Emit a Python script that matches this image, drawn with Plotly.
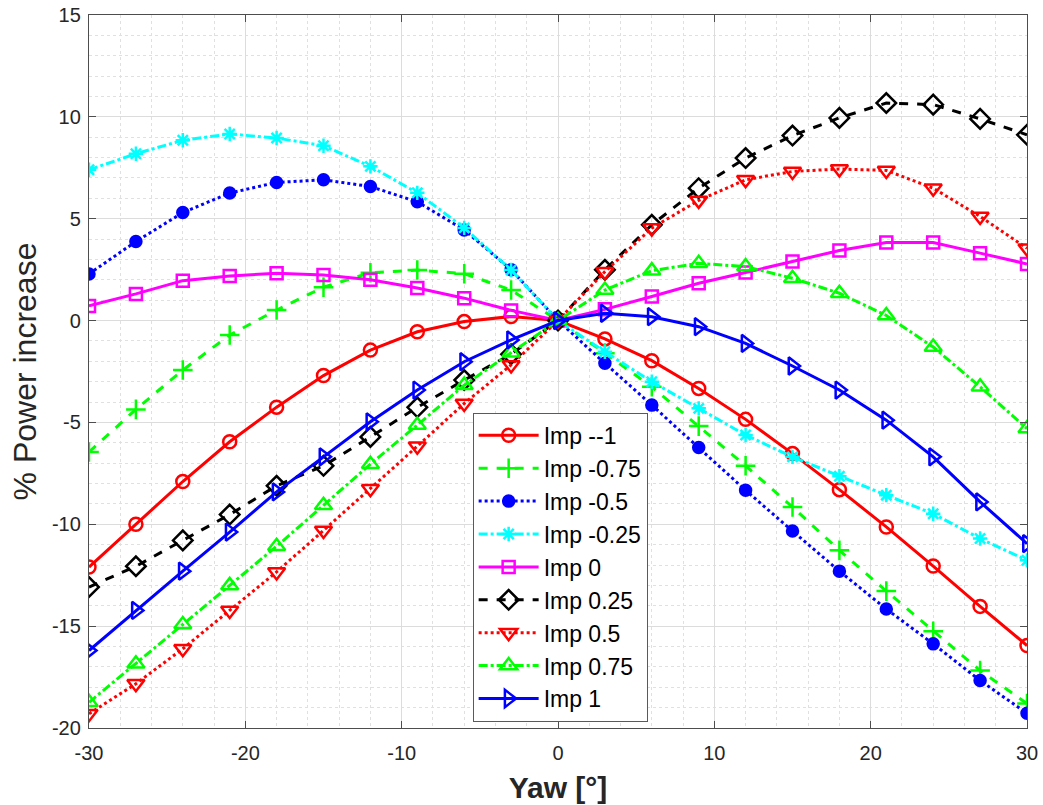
import plotly.graph_objects as go

yaw = [-30, -27, -24, -21, -18, -15, -12, -9, -6, -3, 0, 3, 6, 9, 12, 15, 18, 21, 24, 27, 30]

imp_m1 = [-12.1, -10.0, -7.9, -5.95, -4.25, -2.7, -1.45, -0.55, -0.05, 0.2, 0.0,
          -0.9, -1.97, -3.33, -4.85, -6.53, -8.3, -10.13, -12.05, -14.03, -15.95]
imp_m075 = [-6.45, -4.36, -2.43, -0.71, 0.52, 1.64, 2.35, 2.48, 2.3, 1.5, 0.0,
            -1.6, -3.25, -5.18, -7.13, -9.15, -11.28, -13.28, -15.25, -17.18, -18.8]
imp_m05 = [2.29, 3.88, 5.3, 6.26, 6.78, 6.91, 6.58, 5.83, 4.45, 2.5, 0.0,
           -2.1, -4.15, -6.23, -8.33, -10.33, -12.3, -14.16, -15.87, -17.67, -19.28]
imp_m025 = [7.4, 8.19, 8.85, 9.16, 8.96, 8.58, 7.57, 6.27, 4.55, 2.48, 0.0,
            -1.53, -3.0, -4.31, -5.62, -6.69, -7.64, -8.57, -9.48, -10.7, -11.77]
imp_0 = [0.72, 1.31, 1.96, 2.19, 2.32, 2.24, 2.0, 1.6, 1.1, 0.5, 0.0,
         0.55, 1.18, 1.83, 2.36, 2.9, 3.44, 3.83, 3.83, 3.31, 2.78]
imp_025 = [-13.08, -12.06, -10.79, -9.52, -8.11, -7.13, -5.71, -4.26, -2.92, -1.65, 0.0,
           2.49, 4.7, 6.5, 7.98, 9.08, 9.95, 10.68, 10.6, 9.9, 9.12]
imp_05 = [-19.3, -17.83, -16.11, -14.23, -12.34, -10.3, -8.25, -6.17, -4.07, -2.18, 0.0,
          2.4, 4.54, 5.9, 6.91, 7.32, 7.44, 7.37, 6.5, 5.11, 3.55]
imp_075 = [-18.74, -16.85, -14.92, -13.0, -11.08, -9.07, -7.05, -5.13, -3.17, -1.58, 0.0,
           1.5, 2.45, 2.81, 2.65, 2.08, 1.34, 0.25, -1.3, -3.25, -5.3]
imp_1 = [-16.2, -14.23, -12.3, -10.38, -8.41, -6.69, -4.97, -3.41, -2.02, -0.95, 0.0,
         0.36, 0.19, -0.3, -1.12, -2.23, -3.41, -4.89, -6.69, -8.9, -10.95]

x_ticks = [-30, -20, -10, 0, 10, 20, 30]
x_tick_labels = ["-30", "-20", "-10", "0", "10", "20", "30"]
y_ticks = [-20, -15, -10, -5, 0, 5, 10, 15]
y_tick_labels = ["-20", "-15", "-10", "-5", "0", "5", "10", "15"]

series = [
    ("Imp --1", imp_m1, "#FF0000", "solid", "circle-open", 13),
    ("Imp -0.75", imp_m075, "#00FF00", "dash", "cross-thin-open", 14),
    ("Imp -0.5", imp_m05, "#0000FF", "dot", "circle", 11),
    ("Imp -0.25", imp_m025, "#00FFFF", "dashdot", "asterisk-open", 12),
    ("Imp 0", imp_0, "#FF00FF", "solid", "square-open", 12),
    ("Imp 0.25", imp_025, "#000000", "dash", "diamond-open", 15),
    ("Imp 0.5", imp_05, "#FF0000", "dot", "triangle-down-open", 15),
    ("Imp 0.75", imp_075, "#00FF00", "dashdot", "triangle-up-open", 15),
    ("Imp 1", imp_1, "#0000FF", "solid", "triangle-right-open", 15),
]

fig = go.Figure()
for name, vals, color, dash, sym, size in series:
    fig.add_trace(go.Scatter(
        x=yaw, y=vals, name=name, mode="lines+markers",
        line=dict(color=color, width=3, dash=dash),
        marker=dict(symbol=sym, size=size, color=color,
                    line=dict(color=color, width=2.5)),
    ))

axis_common = dict(
    showgrid=True, gridcolor="#DCDCDC", gridwidth=1,
    zeroline=False, showline=True, linecolor="#4D4D4D", linewidth=1.3,
    mirror="ticks", ticks="inside", ticklen=7, tickcolor="#4D4D4D",
    tickfont=dict(family="Liberation Sans, Arial", size=20, color="#262626"),
    automargin=False, tickmode="array",
)

fig.update_xaxes(
    range=[-30, 30], tickvals=x_ticks, ticktext=x_tick_labels,
    minor=dict(tickvals=[v for v in range(-28, 30, 2) if v % 10], showgrid=True,
               gridcolor="#E0E0E0", griddash="dot", ticks=""),
    title=dict(text="<b>Yaw [°]</b>", font=dict(family="Liberation Sans, Arial", size=30, color="#262626"), standoff=13),
    ticklabelstandoff=7,
    **axis_common,
)
fig.update_yaxes(
    range=[-20, 15], tickvals=y_ticks, ticktext=y_tick_labels,
    minor=dict(tickvals=[v for v in range(-19, 15) if v % 5], showgrid=True,
               gridcolor="#E0E0E0", griddash="dot", ticks=""),
    title=dict(text="% Power increase", font=dict(family="Liberation Sans, Arial", size=32, color="#262626"), standoff=5),
    ticklabelstandoff=3,
    **axis_common,
)

fig.update_layout(
    width=1043, height=805,
    margin=dict(l=89, r=16, t=15, b=77),
    plot_bgcolor="white", paper_bgcolor="white",
    showlegend=True,
    legend=dict(
        x=0.409, y=0.442, xanchor="left", yanchor="top",
        bgcolor="white", bordercolor="#5A5A5A", borderwidth=1,
        font=dict(family="Liberation Sans, Arial", size=23, color="#000000"),
        itemwidth=60, tracegroupgap=0,
    ),
)

fig.write_html("out.html")
